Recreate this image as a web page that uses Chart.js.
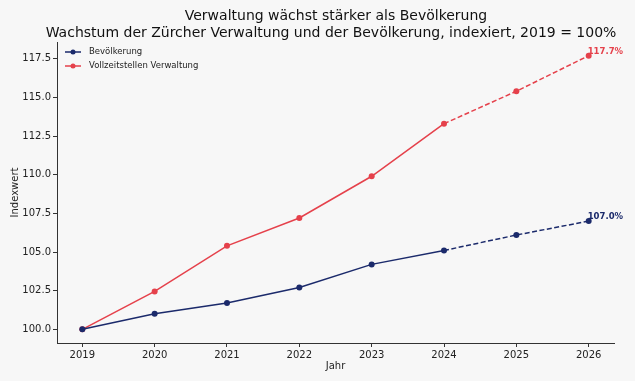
<!doctype html>
<html><head>
<script src="https://cdn.jsdelivr.net/npm/chart.js"></script>
<style>
  html, body { margin: 0; padding: 0; background: #f7f7f7; }
</style>
</head>
<body>
<canvas id="myChart" width="635" height="381"></canvas>
<script>
// data
var years = [2019, 2020, 2021, 2022, 2023, 2024, 2025, 2026];
var bevoelkerung = [100.0, 101.0, 101.7, 102.7, 104.2, 105.1, 106.1, 107.0];
var verwaltung = [100.0, 102.45, 105.4, 107.2, 109.9, 113.3, 115.4, 117.7];
var seriesNames = ['Bevölkerung', 'Vollzeitstellen Verwaltung'];
var yTicks = [100, 102.5, 105, 107.5, 110, 112.5, 115, 117.5];
var titleLines = ['Verwaltung wächst stärker als Bevölkerung',
                  'Wachstum der Zürcher Verwaltung und der Bevölkerung, indexiert, 2019 = 100%'];
var lastActual = 5; // index of 2024, later years are projections (dashed)

var blue = '#1b2a6b';
var red = '#e5414b';
var font = 'DejaVu Sans';

function toPoints(vals) {
    return vals.map(function(v, i) { return { x: years[i], y: v }; });
}

function makeSet(label, vals, color) {
    return {
        label: label,
        data: toPoints(vals),
        borderColor: color,
        backgroundColor: color,
        borderWidth: 1.5,
        pointRadius: 3,
        pointHoverRadius: 3,
        pointBorderWidth: 0,
        tension: 0,
        segment: {
            borderDash: function(ctx) { return ctx.p0DataIndex >= lastActual ? [5, 2.5] : undefined; }
        }
    };
}

var extras = {
    id: 'extras',
    beforeDraw: function(chart) {
        var c = chart.ctx;
        c.save();
        c.fillStyle = '#f7f7f7';
        c.fillRect(0, 0, chart.width, chart.height);
        c.restore();
    },
    afterDraw: function(chart) {
        var c = chart.ctx;
        var xs = chart.scales.x, ys = chart.scales.y;
        c.save();
        // titles
        c.fillStyle = '#111';
        c.textAlign = 'center';
        c.textBaseline = 'middle';
        c.font = '14px "' + font + '"';
        c.fillText(titleLines[0], 336, 16);
        c.fillText(titleLines[1], 331, 33);

        // legend
        c.font = '8.5px "' + font + '"';
        c.textAlign = 'left';
        chart.data.datasets.forEach(function(ds, i) {
            var y = 52 + i * 14;
            c.strokeStyle = ds.borderColor;
            c.fillStyle = ds.borderColor;
            c.lineWidth = 1.5;
            c.beginPath();
            c.moveTo(65, y);
            c.lineTo(81, y);
            c.stroke();
            c.beginPath();
            c.arc(73, y, 2.5, 0, Math.PI * 2);
            c.fill();
            c.fillStyle = '#222';
            c.fillText(ds.label, 89, y);
        });

        // end labels
        c.font = 'bold 8.5px "' + font + '"';
        chart.data.datasets.forEach(function(ds) {
            var p = ds.data[ds.data.length - 1];
            c.fillStyle = ds.borderColor;
            c.textBaseline = 'middle';
            c.fillText(p.y.toFixed(1) + '%', xs.getPixelForValue(p.x) - 1, ys.getPixelForValue(p.y) - 4);
        });
        c.restore();
    }
};

var config = {
    type: 'line',
    data: {
        datasets: [
            makeSet(seriesNames[0], bevoelkerung, blue),
            makeSet(seriesNames[1], verwaltung, red)
        ]
    },
    options: {
        responsive: false,
        animation: false,
        layout: { padding: { top: 42, right: 21, bottom: 9, left: 9 } },
        plugins: {
            legend: { display: false },
            title: { display: false },
            tooltip: { enabled: false }
        },
        scales: {
            x: {
                type: 'linear',
                min: 2018.65,
                max: 2026.35,
                afterBuildTicks: function(s) { s.ticks = years.map(function(v) { return { value: v }; }); },
                afterFit: function(s) { s.height = 29; },
                ticks: {
                    color: '#222',
                    font: { family: font, size: 10 },
                    padding: 2,
                    maxRotation: 0,
                    callback: function(v) { return String(v); }
                },
                grid: { drawOnChartArea: false, tickLength: 4, color: '#333', tickColor: '#333' },
                border: { color: '#333', width: 1 },
                title: { display: true, text: 'Jahr', color: '#222', font: { family: font, size: 10 }, padding: { top: 1, bottom: 0 } }
            },
            y: {
                min: 99.115,
                max: 118.585,
                afterBuildTicks: function(s) { s.ticks = yTicks.map(function(v) { return { value: v }; }); },
                afterFit: function(s) { s.width = 48; },
                ticks: {
                    color: '#222',
                    font: { family: font, size: 10 },
                    padding: 2,
                    callback: function(v) { return Number(v).toFixed(1); }
                },
                grid: { drawOnChartArea: false, tickLength: 4, color: '#333', tickColor: '#333' },
                border: { color: '#333', width: 1 },
                title: { display: true, text: 'Indexwert', color: '#222', font: { family: font, size: 10 }, padding: { top: 0, bottom: 4 } }
            }
        }
    },
    plugins: [extras]
};

var myChart = new Chart(document.getElementById('myChart'), config);
</script>
</body>
</html>
